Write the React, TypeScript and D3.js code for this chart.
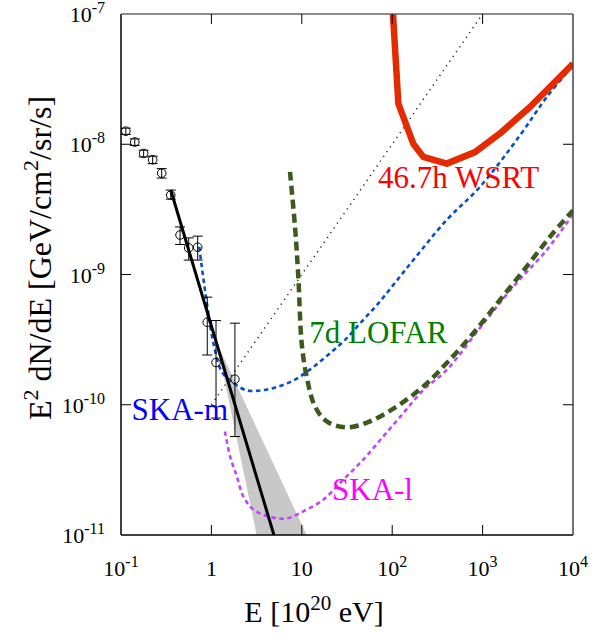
import React from 'react';
import * as d3 from 'd3';

// Auger-like data points with error bars
const dataE = [0.113, 0.142, 0.178, 0.224, 0.282, 0.355, 0.45, 0.561, 0.705, 0.9, 1.125, 1.82];
const dataFlux = [1.26e-8, 1.04e-8, 8.5e-9, 7.6e-9, 6.0e-9, 4.07e-9, 2.01e-9, 1.6e-9, 1.62e-9, 4.3e-10, 2.11e-10, 1.57e-10];
const errHi = [1.33e-8, 1.1e-8, 9.0e-9, 8.1e-9, 6.5e-9, 4.45e-9, 2.32e-9, 1.91e-9, 1.97e-9, 6.7e-10, 4.43e-10, 4.23e-10];
const errLo = [1.19e-8, 0.98e-8, 8.0e-9, 7.1e-9, 5.5e-9, 3.79e-9, 1.7e-9, 1.29e-9, 1.29e-9, 2.41e-10, 7.9e-11, 5.7e-11];

// power-law fit and its uncertainty wedge
const fitE = [0.355, 6];
const fitFlux = [4.45e-9, 6.3e-12];
const bandE = [1.15, 14, 3.6];
const bandFlux = [2.98e-10, 7.3e-12, 6.5e-12];

// thin dotted reference line
const refE = [0.92, 1000];
const refFlux = [9.2e-11, 1e-7];

// sensitivity curves
const wsrtE = [100.7, 117, 171, 221, 401, 824, 1557, 3340, 10000];
const wsrtFlux = [1.16e-7, 2.05e-8, 1.01e-8, 8.0e-9, 7.1e-9, 8.7e-9, 1.21e-8, 1.93e-8, 4.15e-8];

const lofarE = [7.4, 8.41, 9.15, 9.97, 11.3, 14.0, 18.9, 31.4, 56.8, 112, 221, 401, 789, 1557, 3073, 5570, 10000];
const lofarFlux = [6.14e-9, 2.32e-9, 9.6e-10, 2.97e-10, 1.65e-10, 9.7e-11, 7.45e-11, 6.7e-11, 7.45e-11, 9.7e-11, 1.38e-10, 2.09e-10, 3.54e-10, 6.38e-10, 1.15e-9, 1.95e-9, 3.1e-9];

const skamE = [0.734, 0.782, 0.849, 0.925, 1.05, 1.3, 1.75, 2.46, 3.6, 5.5, 8.41, 12.9, 19.6, 30.1, 46.0, 70.2, 107, 171, 400, 935, 2590, 5120, 10000];
const skamFlux = [1.63e-9, 1.15e-9, 7.6e-10, 5.07e-10, 2.99e-10, 1.8e-10, 1.47e-10, 1.29e-10, 1.29e-10, 1.38e-10, 1.56e-10, 1.91e-10, 2.42e-10, 3.15e-10, 4.35e-10, 6.0e-10, 8.6e-10, 1.29e-9, 2.62e-9, 4.71e-9, 1.17e-8, 2.3e-8, 4.03e-8];

const skalE = [1.41, 1.61, 1.91, 2.25, 2.91, 4.44, 6.8, 10.4, 17.3, 28.8, 47.9, 79.8, 133, 221, 401, 935, 2188, 5117, 9268, 10000];
const skalFlux = [6.24e-11, 4.02e-11, 2.82e-11, 1.98e-11, 1.57e-11, 1.38e-11, 1.34e-11, 1.52e-11, 1.87e-11, 2.66e-11, 3.79e-11, 5.72e-11, 8.63e-11, 1.3e-10, 1.85e-10, 3.89e-10, 8.07e-10, 1.54e-9, 2.7e-9, 2.91e-9];

const xTicks = [0.1, 1, 10, 100, 1000, 10000];
const xTickBase = ['10', '1', '10', '10', '10', '10'];
const xTickExp = ['-1', '', '', '2', '3', '4'];
const yTicks = [1e-7, 1e-8, 1e-9, 1e-10, 1e-11];
const yTickExp = ['-7', '-8', '-9', '-10', '-11'];

const W = 603;
const H = 641;
const margin = { top: 14, right: 30, bottom: 106, left: 121 };
const FONT = '"Liberation Serif", "Times New Roman", serif';

const App = () => {
  const innerW = W - margin.left - margin.right;
  const innerH = H - margin.top - margin.bottom;

  const x = d3.scaleLog().domain([0.1, 10000]).range([0, innerW]);
  const y = d3.scaleLog().domain([1e-11, 1e-7]).range([innerH, 0]);

  const zip = (es: number[], fs: number[]) => es.map((e, i) => [e, fs[i]] as [number, number]);
  const line = d3.line<[number, number]>().x(d => x(d[0])).y(d => y(d[1]));
  const smooth = d3.line<[number, number]>().x(d => x(d[0])).y(d => y(d[1])).curve(d3.curveCatmullRom.alpha(0.5));

  const bandPath = line(zip(bandE, bandFlux)) + 'Z';

  return (
    <svg width={W} height={H} style={{ position: 'absolute', left: 0, top: 0, background: '#fff' }}>
      <defs>
        <clipPath id="plot-clip">
          <rect x={0} y={0} width={innerW} height={innerH} />
        </clipPath>
      </defs>
      <g transform={`translate(${margin.left},${margin.top})`}>
        <g clipPath="url(#plot-clip)">
          {/* uncertainty wedge */}
          <path d={bandPath} fill="#c8c8c8" stroke="none" />

          {/* dotted reference */}
          <path d={line(zip(refE, refFlux)) || ''} fill="none" stroke="#222" strokeWidth={1.5}
            strokeDasharray="1.2,4.6" />

          {/* SKA-l */}
          <path d={smooth(zip(skalE, skalFlux)) || ''} fill="none" stroke="#bf45ff" strokeWidth={2.6}
            strokeDasharray="4.5,3.5" />

          {/* LOFAR */}
          <path d={smooth(zip(lofarE, lofarFlux)) || ''} fill="none" stroke="#3c5a1e" strokeWidth={4.5}
            strokeDasharray="9,5" />

          {/* SKA-m */}
          <path d={smooth(zip(skamE, skamFlux)) || ''} fill="none" stroke="#0a4fc6" strokeWidth={2.6}
            strokeDasharray="4.5,3.5" />

          {/* WSRT */}
          <path d={line(zip(wsrtE, wsrtFlux)) || ''} fill="none" stroke="#e42a00" strokeWidth={6.5}
            strokeLinejoin="round" />

          {/* fit line */}
          <path d={line(zip(fitE, fitFlux)) || ''} fill="none" stroke="#000" strokeWidth={3} />

          {/* data points */}
          {dataE.map((e, i) => {
            const cx = x(e);
            return (
              <g key={i} stroke="#000" strokeWidth={1} fill="none">
                <line x1={cx} x2={cx} y1={y(errHi[i])} y2={y(errLo[i])} />
                <line x1={cx - 5} x2={cx + 5} y1={y(errHi[i])} y2={y(errHi[i])} />
                <line x1={cx - 5} x2={cx + 5} y1={y(errLo[i])} y2={y(errLo[i])} />
                <circle cx={cx} cy={y(dataFlux[i])} r={4.3} />
              </g>
            );
          })}
        </g>

        {/* frame */}
        <line x1={0} x2={0} y1={0} y2={innerH} stroke="#000" strokeWidth={1.5} />
        <line x1={0} x2={innerW} y1={innerH} y2={innerH} stroke="#000" strokeWidth={1.5} />
        <line x1={0} x2={innerW} y1={0} y2={0} stroke="#666" strokeWidth={1.5} />
        <line x1={innerW} x2={innerW} y1={0} y2={innerH} stroke="#444" strokeWidth={1.5} />

        {/* ticks */}
        {xTicks.slice(1, -1).map(t => (
          <g key={'xt' + t} stroke="#000" strokeWidth={1}>
            <line x1={x(t)} x2={x(t)} y1={innerH} y2={innerH - 10} />
            <line x1={x(t)} x2={x(t)} y1={0} y2={10} />
          </g>
        ))}
        {yTicks.slice(1, -1).map(t => (
          <g key={'yt' + t} stroke="#000" strokeWidth={1}>
            <line x1={0} x2={10} y1={y(t)} y2={y(t)} />
            <line x1={innerW} x2={innerW - 10} y1={y(t)} y2={y(t)} />
          </g>
        ))}

        {/* tick labels */}
        {xTicks.map((t, i) => (
          <text key={'xl' + t} x={x(t)} y={innerH + 41} textAnchor="middle" fontFamily={FONT} fontSize={22} fill="#000">
            {xTickBase[i]}
            {xTickExp[i] && <tspan dy={-9} fontSize={16}>{xTickExp[i]}</tspan>}
          </text>
        ))}
        {yTicks.map((t, i) => (
          <text key={'yl' + t} x={-16} y={y(t) + 8} textAnchor="end" fontFamily={FONT} fontSize={22} fill="#000">
            10<tspan dy={-9} fontSize={16}>{yTickExp[i]}</tspan>
          </text>
        ))}

        {/* curve labels */}
        <text x={x(69.7)} y={y(4.58e-9)} fontFamily={FONT} fontSize={31} fill="#ff0000">46.7h WSRT</text>
        <text x={x(12.1)} y={y(2.99e-10)} fontFamily={FONT} fontSize={31} fill="#008000">7d LOFAR</text>
        <text x={x(0.131)} y={y(7.6e-11)} fontFamily={FONT} fontSize={31} fill="#0000ff">SKA-m</text>
        <text x={x(21.6)} y={y(1.85e-11)} fontFamily={FONT} fontSize={31} fill="#ff00ff">SKA-l</text>
      </g>

      {/* axis titles */}
      <text x={314} y={622} textAnchor="middle" fontFamily={FONT} fontSize={30} fill="#000">
        E [10<tspan dy={-12} fontSize={21}>20</tspan><tspan dy={12}> eV]</tspan>
      </text>
      <text transform={`translate(51,258) rotate(-90)`} textAnchor="middle"
        fontFamily={FONT} fontSize={32} fill="#000">
        E<tspan dy={-13} fontSize={22}>2</tspan><tspan dy={13}> dN/dE [GeV/cm</tspan><tspan dy={-13} fontSize={22}>2</tspan><tspan dy={13}>/sr/s]</tspan>
      </text>
    </svg>
  );
};

export default App;
